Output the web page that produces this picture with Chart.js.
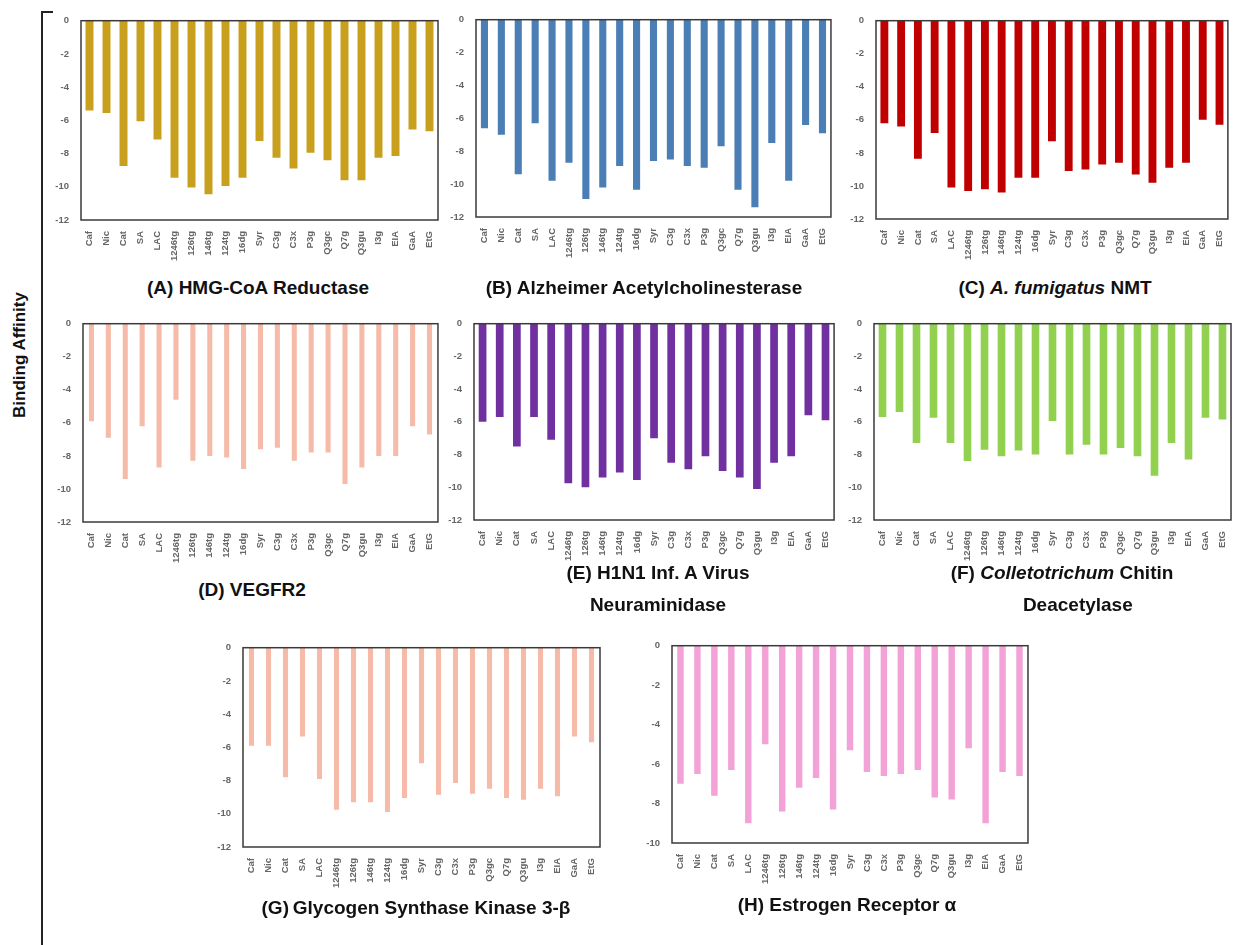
<!DOCTYPE html>
<html>
<head>
<meta charset="utf-8">
<script src="https://cdn.jsdelivr.net/npm/chart.js@4.4.1/dist/chart.umd.min.js"></script>
<style>
    body { margin: 0; background: #fff; width: 1236px; height: 945px; position: relative; overflow: hidden; font-family: "Liberation Sans", Arial, sans-serif; }
    .panel { position: absolute; }
    .title { position: absolute; font-weight: bold; font-size: 19px; color: #111; white-space: nowrap; transform: translate(-50%, -50%); text-align: center; line-height: 32px; }
    #axisLine { position: absolute; left: 41px; top: 12px; width: 2px; height: 940px; background: #222; }
    #axisCap { position: absolute; left: 41px; top: 11px; width: 12px; height: 2px; background: #222; }
    #yTitle { position: absolute; left: 20px; top: 355px; transform: translate(-50%, -50%) rotate(-90deg); font-weight: bold; font-size: 17px; color: #111; white-space: nowrap; }
</style>
</head>
<body>
<div id="axisLine"></div>
<div id="axisCap"></div>
<div id="yTitle">Binding Affinity</div>

<script>
const ligands = ['Caf', 'Nic', 'Cat', 'SA', 'LAC', '1246tg', '126tg', '146tg', '124tg', '16dg', 'Syr',
    'C3g', 'C3x', 'P3g', 'Q3gc', 'Q7g', 'Q3gu', 'I3g', 'EIA', 'GaA', 'EtG'];

const hmgCoA = [-5.4, -5.55, -8.75, -6.05, -7.15, -9.45, -10.05, -10.45, -9.95, -9.45, -7.25,
    -8.25, -8.9, -7.95, -8.4, -9.6, -9.6, -8.25, -8.15, -6.55, -6.65];
const acetylcholinesterase = [-6.6, -7.0, -9.4, -6.3, -9.8, -8.7, -10.9, -10.2, -8.9, -10.35, -8.6,
    -8.5, -8.9, -9.0, -7.7, -10.35, -11.4, -7.5, -9.8, -6.4, -6.9];
const fumigatusNMT = [-6.2, -6.4, -8.35, -6.8, -10.1, -10.3, -10.2, -10.4, -9.5, -9.5, -7.3,
    -9.1, -9.0, -8.7, -8.6, -9.3, -9.8, -8.9, -8.6, -6.0, -6.3];
const vegfr2 = [-5.9, -6.9, -9.4, -6.2, -8.7, -4.6, -8.3, -8.0, -8.1, -8.8, -7.6,
    -7.5, -8.3, -7.8, -7.8, -9.7, -8.7, -8.0, -8.0, -6.2, -6.7];
const neuraminidase = [-6.0, -5.7, -7.5, -5.7, -7.1, -9.75, -10.0, -9.4, -9.1, -9.55, -7.0,
    -8.5, -8.9, -8.1, -9.0, -9.4, -10.1, -8.5, -8.1, -5.6, -5.9];
const chitinDeacetylase = [-5.7, -5.4, -7.3, -5.75, -7.3, -8.4, -7.7, -8.1, -7.75, -8.0, -5.95,
    -8.0, -7.4, -8.0, -7.6, -8.1, -9.3, -7.3, -8.3, -5.75, -5.85];
const gsk3b = [-5.9, -5.9, -7.8, -5.35, -7.9, -9.75, -9.3, -9.3, -9.9, -9.05, -6.95,
    -8.85, -8.15, -8.8, -8.5, -9.05, -9.15, -8.5, -8.95, -5.35, -5.7];
const estrogenReceptor = [-7.0, -6.5, -7.6, -6.3, -9.0, -5.0, -8.4, -7.2, -6.7, -8.3, -5.3,
    -6.4, -6.6, -6.5, -6.3, -7.7, -7.8, -5.2, -9.0, -6.4, -6.6];

const yTicks12 = [0, -2, -4, -6, -8, -10, -12];
const yTicks10 = [0, -2, -4, -6, -8, -10];

const panels = [
    { data: hmgCoA, color: '#C9A01E', ticks: yTicks12, box: [81, 19, 440, 220], bar: 0.47,
        title: '(A) HMG-CoA Reductase', tx: 258, ty: 288 },
    { data: acetylcholinesterase, color: '#4A7EB4', ticks: yTicks12, box: [476, 18, 833, 217], bar: 0.42,
        title: '(B) Alzheimer Acetylcholinesterase', tx: 644, ty: 288 },
    { data: fumigatusNMT, color: '#C00000', ticks: yTicks12, box: [876, 19, 1230, 219], bar: 0.47,
        title: '(C) <i>A. fumigatus</i> NMT', tx: 1055, ty: 288 },
    { data: vegfr2, color: '#F5BBA8', ticks: yTicks12, box: [83, 322, 440, 522], bar: 0.3,
        title: '(D) VEGFR2', tx: 252, ty: 590 },
    { data: neuraminidase, color: '#7030A0', ticks: yTicks12, box: [474, 322, 836, 520], bar: 0.45,
        title: '(E) H1N1 Inf. A Virus<br>Neuraminidase', tx: 658, ty: 589 },
    { data: chitinDeacetylase, color: '#92D050', ticks: yTicks12, box: [874, 322, 1233, 520], bar: 0.45,
        title: '(F) <i>Colletotrichum</i> Chitin<br>&nbsp;&nbsp;&nbsp;&nbsp;&nbsp;&nbsp;Deacetylase', tx: 1062, ty: 589 },
    { data: gsk3b, color: '#F5BBA8', ticks: yTicks12, box: [243, 646, 602, 847], bar: 0.3,
        title: '(G)\u2009Glycogen Synthase Kinase 3-\u03B2', tx: 416, ty: 908 },
    { data: estrogenReceptor, color: '#F2A2D6', ticks: yTicks10, box: [672, 644, 1030, 843], bar: 0.38,
        title: '(H) Estrogen Receptor \u03B1', tx: 847, ty: 905 },
];

const Y_AXIS_W = 38;
const X_AXIS_H = 52;
const PAD_TOP = 8;
const PAD_RIGHT = 4;

const boxBorder = {
    id: 'boxBorder',
    afterDatasetsDraw(chart) {
        const { ctx, chartArea: a } = chart;
        ctx.save();
        ctx.strokeStyle = '#3a3a3a';
        ctx.lineWidth = 1.5;
        ctx.strokeRect(a.left, a.top, a.right - a.left, a.bottom - a.top);
        ctx.restore();
    },
};

panels.forEach((p, i) => {
    const [l, t, r, b] = p.box;
    const div = document.createElement('div');
    div.className = 'panel';
    const w = Y_AXIS_W + (r - l) + PAD_RIGHT;
    const h = PAD_TOP + (b - t) + X_AXIS_H;
    div.style.left = (l - Y_AXIS_W) + 'px';
    div.style.top = (t - PAD_TOP) + 'px';
    div.style.width = w + 'px';
    div.style.height = h + 'px';
    const canvas = document.createElement('canvas');
    canvas.id = 'chart' + i;
    div.appendChild(canvas);
    document.body.appendChild(div);

    const title = document.createElement('div');
    title.className = 'title';
    title.innerHTML = p.title;
    title.style.left = p.tx + 'px';
    title.style.top = p.ty + 'px';
    document.body.appendChild(title);

    const yMin = p.ticks[p.ticks.length - 1];

    new Chart(canvas.getContext('2d'), {
        type: 'bar',
        data: {
            labels: ligands,
            datasets: [{
                data: p.data,
                backgroundColor: p.color,
                borderWidth: 0,
                barPercentage: p.bar,
                categoryPercentage: 1,
            }],
        },
        options: {
            responsive: true,
            maintainAspectRatio: false,
            animation: false,
            layout: { padding: { top: PAD_TOP, right: PAD_RIGHT, left: 0, bottom: 0 } },
            plugins: { legend: { display: false }, tooltip: { enabled: false } },
            scales: {
                x: {
                    grid: { display: false },
                    border: { display: false },
                    ticks: {
                        autoSkip: false,
                        maxRotation: 90,
                        minRotation: 90,
                        padding: 3,
                        color: '#666',
                        font: { family: 'Liberation Sans', size: 9.5, weight: 'bold' },
                    },
                    afterFit: (scale) => { scale.height = X_AXIS_H; },
                },
                y: {
                    min: yMin,
                    max: 0,
                    grid: { display: false },
                    border: { display: false },
                    afterBuildTicks: (scale) => { scale.ticks = p.ticks.map((v) => ({ value: v })); },
                    ticks: {
                        padding: 4,
                        color: '#666',
                        font: { family: 'Liberation Sans', size: 9.5, weight: 'bold' },
                    },
                    afterFit: (scale) => { scale.width = Y_AXIS_W; },
                },
            },
        },
        plugins: [boxBorder],
    });
});
</script>
</body>
</html>
